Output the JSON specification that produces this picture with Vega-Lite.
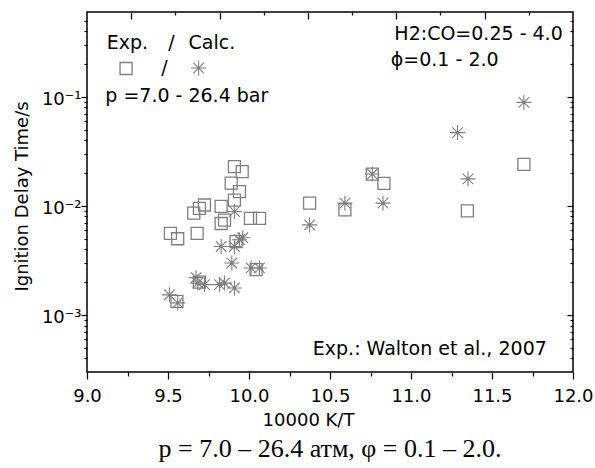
{
  "$schema": "https://vega.github.io/schema/vega-lite/v6.json",
  "width": 486,
  "height": 360,
  "autosize": "none",
  "padding": {"left": 87, "top": 12, "right": 22, "bottom": 96},
  "background": "white",
  "config": {
    "view": {"stroke": "black", "strokeWidth": 1.5},
    "axis": {"grid": false, "domain": false, "tickColor": "black", "tickWidth": 1.2, "labelColor": "black", "labelFont": "DejaVu Sans", "labelFontSize": 18, "titleFont": "DejaVu Sans", "titleFontSize": 18, "titleFontWeight": "normal", "titleColor": "black"}
  },
  "title": {"text": "p = 7.0 – 26.4 атм, φ = 0.1 – 2.0.", "orient": "bottom", "anchor": "middle", "font": "Liberation Serif", "fontSize": 26, "fontWeight": "normal", "color": "black", "offset": 7},
  "datasets": {
    "exp": [
      {"x": 9.910, "y": 0.0229}, {"x": 9.958, "y": 0.0206}, {"x": 9.890, "y": 0.0162}, {"x": 9.941, "y": 0.0135},
      {"x": 9.910, "y": 0.0113}, {"x": 9.828, "y": 0.0099}, {"x": 9.725, "y": 0.0102}, {"x": 9.694, "y": 0.0095},
      {"x": 9.659, "y": 0.0086}, {"x": 10.009, "y": 0.0077}, {"x": 10.065, "y": 0.0077}, {"x": 9.849, "y": 0.0074},
      {"x": 9.828, "y": 0.0069}, {"x": 9.515, "y": 0.0056}, {"x": 9.560, "y": 0.0050}, {"x": 9.680, "y": 0.0056},
      {"x": 9.920, "y": 0.0047}, {"x": 10.044, "y": 0.0026}, {"x": 9.694, "y": 0.0020}, {"x": 9.555, "y": 0.00133},
      {"x": 10.374, "y": 0.0106}, {"x": 10.592, "y": 0.0092}, {"x": 10.761, "y": 0.0196}, {"x": 10.833, "y": 0.0161},
      {"x": 11.348, "y": 0.0090}, {"x": 11.697, "y": 0.024}
    ],
    "calc": [
      {"x": 9.910, "y": 0.0089}, {"x": 9.962, "y": 0.0051}, {"x": 9.941, "y": 0.0049}, {"x": 9.828, "y": 0.00425},
      {"x": 9.910, "y": 0.00425}, {"x": 9.894, "y": 0.0030}, {"x": 10.013, "y": 0.0027}, {"x": 10.065, "y": 0.0027},
      {"x": 9.673, "y": 0.0022}, {"x": 9.684, "y": 0.00196}, {"x": 9.725, "y": 0.0019}, {"x": 9.818, "y": 0.0019},
      {"x": 9.849, "y": 0.00196}, {"x": 9.910, "y": 0.00177}, {"x": 9.509, "y": 0.00153}, {"x": 9.560, "y": 0.00129},
      {"x": 10.374, "y": 0.0067}, {"x": 10.592, "y": 0.0106}, {"x": 10.761, "y": 0.0196}, {"x": 10.827, "y": 0.0106},
      {"x": 11.287, "y": 0.047}, {"x": 11.352, "y": 0.0177}, {"x": 11.697, "y": 0.089}
    ],
    "notes": [
      {"x": 9.249, "y": 0.277, "label": "Exp."},
      {"x": 9.522, "y": 0.277, "label": "/"},
      {"x": 9.771, "y": 0.277, "label": "Calc."},
      {"x": 9.478, "y": 0.161, "label": "/"},
      {"x": 9.616, "y": 0.090, "label": "p =7.0 - 26.4 bar"},
      {"x": 11.417, "y": 0.335, "label": "H2:CO=0.25 - 4.0"},
      {"x": 11.208, "y": 0.191, "label": "ϕ=0.1 - 2.0"},
      {"x": 11.116, "y": 0.000434, "label": "Exp.: Walton et al., 2007"}
    ],
    "keySquare": [{"x": 9.241, "y": 0.182}],
    "keyStar": [{"x": 9.689, "y": 0.184}]
  },
  "layer": [
    {
      "data": {"name": "exp"},
      "mark": {"type": "point", "shape": "square", "filled": false, "size": 144, "stroke": "#7f7f7f", "strokeWidth": 1.3, "opacity": 1},
      "encoding": {
        "x": {"field": "x", "type": "quantitative", "scale": {"domain": [9, 12], "nice": false, "zero": false},
          "axis": {"orient": "bottom", "values": [9, 9.5, 10, 10.5, 11, 11.5, 12], "format": ".1f", "tickSize": 7, "labelPadding": 8, "title": "10000 K/T", "titleX": 221, "titleY": 53, "titleBaseline": "alphabetic", "titleAnchor": null, "labelFlush": false}},
        "y": {"field": "y", "type": "quantitative", "scale": {"type": "log", "domain": [0.0003, 0.6], "nice": false},
          "axis": {"orient": "left", "values": [0.001, 0.01, 0.1], "labelExpr": "datum.value > 0.05 ? '10⁻¹' : datum.value > 0.005 ? '10⁻²' : '10⁻³'", "tickSize": 6, "labelPadding": 0, "labelOffset": 3, "labelBaseline": "middle", "title": "Ignition Delay Time/s", "titleX": -65, "titleY": 184, "titleAngle": -90, "titleBaseline": "middle", "titleAlign": "center", "titleAnchor": null}}
      }
    },
    {
      "data": {"name": "calc"},
      "mark": {"type": "point", "shape": "M-1,0L1,0M0,-1L0,1M-0.707,-0.707L0.707,0.707M-0.707,0.707L0.707,-0.707", "filled": false, "size": 225, "stroke": "#7f7f7f", "strokeWidth": 1.1, "opacity": 1},
      "encoding": {
        "x": {"field": "x", "type": "quantitative", "scale": {"domain": [9, 12], "nice": false, "zero": false},
          "axis": {"orient": "bottom", "values": [9.25, 9.75, 10.25, 10.75, 11.25, 11.75], "labels": false, "tickSize": 4, "title": null}},
        "y": {"field": "y", "type": "quantitative", "scale": {"type": "log", "domain": [0.0003, 0.6], "nice": false},
          "axis": {"orient": "left", "values": [0.0004, 0.0005, 0.0006, 0.0007, 0.0008, 0.0009, 0.002, 0.003, 0.004, 0.005, 0.006, 0.007, 0.008, 0.009, 0.02, 0.03, 0.04, 0.05, 0.06, 0.07, 0.08, 0.09, 0.2, 0.3, 0.4, 0.5], "labels": false, "tickSize": 3, "title": null}}
      }
    },
    {
      "data": {"name": "calc"},
      "mark": {"type": "point", "shape": "circle", "filled": true, "size": 7, "color": "#7f7f7f", "opacity": 1},
      "encoding": {
        "x": {"field": "x", "type": "quantitative", "scale": {"domain": [9, 12], "nice": false, "zero": false},
          "axis": {"orient": "top", "values": [9.2727, 9.8182, 10.3636, 10.9091, 11.4545], "labels": false, "tickSize": -7, "title": null}},
        "y": {"field": "y", "type": "quantitative", "scale": {"type": "log", "domain": [0.0003, 0.6], "nice": false},
          "axis": {"orient": "right", "values": [0.001, 0.01, 0.1], "labels": false, "tickSize": -6, "title": null}}
      }
    },
    {
      "data": {"name": "notes"},
      "mark": {"type": "text", "font": "DejaVu Sans", "fontSize": 19, "color": "black", "align": "center", "baseline": "alphabetic"},
      "encoding": {
        "x": {"field": "x", "type": "quantitative", "scale": {"domain": [9, 12], "nice": false, "zero": false},
          "axis": {"orient": "top", "values": [9.5455, 10.0909, 10.6364, 11.1818, 11.7273], "labels": false, "tickSize": -3, "title": null}},
        "y": {"field": "y", "type": "quantitative", "scale": {"type": "log", "domain": [0.0003, 0.6], "nice": false},
          "axis": {"orient": "right", "values": [0.0004, 0.0005, 0.0006, 0.0007, 0.0008, 0.0009, 0.002, 0.003, 0.004, 0.005, 0.006, 0.007, 0.008, 0.009, 0.02, 0.03, 0.04, 0.05, 0.06, 0.07, 0.08, 0.09, 0.2, 0.3, 0.4, 0.5], "labels": false, "tickSize": -3, "title": null}},
        "text": {"field": "label", "type": "nominal"}
      }
    },
    {
      "data": {"name": "keySquare"},
      "mark": {"type": "point", "shape": "square", "filled": false, "size": 144, "stroke": "#7f7f7f", "strokeWidth": 1.3, "opacity": 1},
      "encoding": {
        "x": {"field": "x", "type": "quantitative", "scale": {"domain": [9, 12], "nice": false, "zero": false}, "axis": null},
        "y": {"field": "y", "type": "quantitative", "scale": {"type": "log", "domain": [0.0003, 0.6], "nice": false}, "axis": null}
      }
    },
    {
      "data": {"name": "keyStar"},
      "mark": {"type": "point", "shape": "M-1,0L1,0M0,-1L0,1M-0.707,-0.707L0.707,0.707M-0.707,0.707L0.707,-0.707", "filled": false, "size": 225, "stroke": "#7f7f7f", "strokeWidth": 1.1, "opacity": 1},
      "encoding": {
        "x": {"field": "x", "type": "quantitative", "scale": {"domain": [9, 12], "nice": false, "zero": false}, "axis": null},
        "y": {"field": "y", "type": "quantitative", "scale": {"type": "log", "domain": [0.0003, 0.6], "nice": false}, "axis": null}
      }
    }
  ],
  "resolve": {"axis": {"x": "independent", "y": "independent"}}
}
